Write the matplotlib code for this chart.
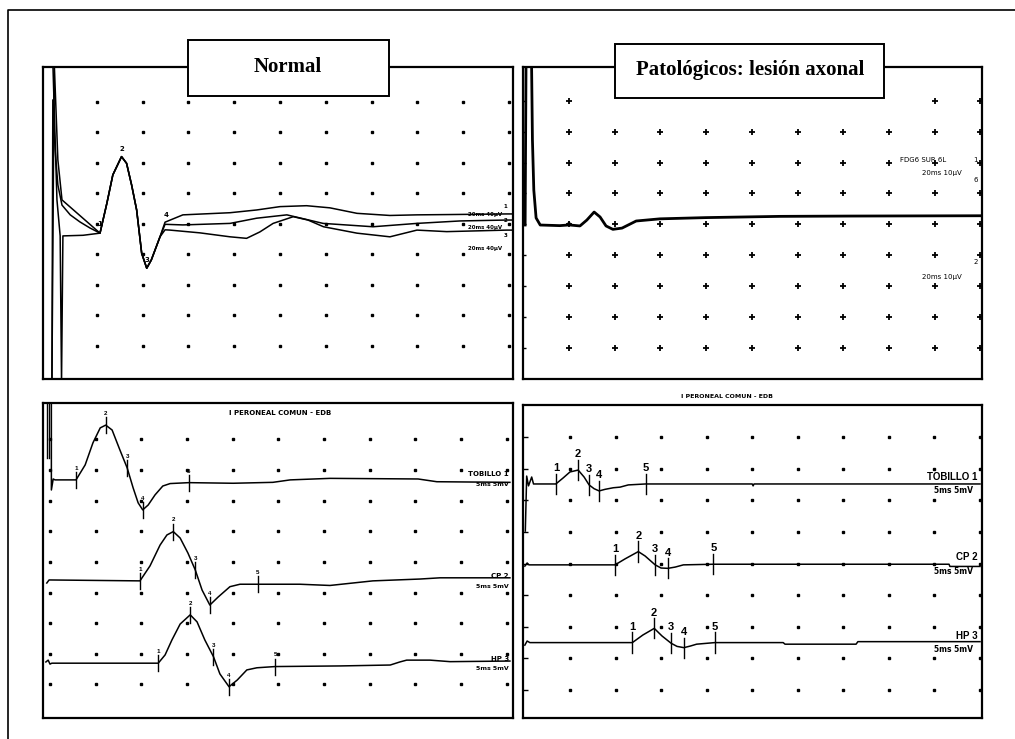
import numpy as np
import matplotlib.pyplot as plt
from matplotlib.patches import Rectangle

W, H = 1015, 739

# all traces in screen divisions (x: time div, y: amplitude div from bottom grid row)

# --- top left "Normal": three superimposed responses ---
tl_common_x = [1.07, 1.22, 1.35, 1.54, 1.65, 1.76, 1.87, 1.98, 2.09, 2.19, 2.38]
tl_common_y = [4.69, 5.67, 6.60, 7.20, 6.98, 6.27, 5.45, 4.03, 3.54, 3.81, 4.57]
tl_a_pre_x = [0.02, 0.04, 0.09, 0.15, 0.24, 0.42, 0.63, 0.85]
tl_a_pre_y = [-0.2, 9.06, 7.42, 6.27, 5.61, 5.29, 5.06, 4.86]
tl_a_post_x = [2.49, 2.88, 3.91, 4.49, 5.00, 5.58, 6.09, 6.68, 7.40, 7.99, 8.71, 9.95, 10.1]
tl_a_post_y = [5.05, 5.29, 5.36, 5.45, 5.56, 5.59, 5.52, 5.34, 5.27, 5.29, 5.30, 5.32, 5.32]
tl_b_pre_x = [0.04, 0.13, 0.20, 0.23, 0.26, 0.70]
tl_b_pre_y = [10.3, 5.78, 4.60, -0.2, 4.60, 4.62]
tl_b_post_x = [2.49, 2.88, 3.91, 4.49, 5.15, 5.94, 7.03, 7.99, 8.93, 9.95, 10.1]
tl_b_post_y = [4.98, 4.96, 5.01, 5.18, 5.29, 5.01, 4.90, 5.01, 5.09, 5.12, 5.12]
tl_c_pre_x = [0.02, 0.07, 0.15, 0.24]
tl_c_pre_y = [-0.2, 10.3, 7.09, 5.78]
tl_c_post_x = [2.49, 2.60, 3.25, 3.91, 4.27, 4.56, 4.85, 5.29, 5.61, 5.95, 6.68, 7.40, 7.99, 8.64, 9.95, 10.1]
tl_c_post_y = [4.80, 4.79, 4.70, 4.57, 4.52, 4.73, 5.01, 5.23, 5.12, 4.90, 4.69, 4.57, 4.79, 4.74, 4.79, 4.79]
tl_mark_x = [1.07, 1.54, 2.09, 2.51]
tl_mark_y = [5.00, 7.45, 3.80, 5.28]

# --- top right: axonal lesion, single low response ---
tr_x = [0.04, 0.06, 0.06, 0.18, 0.20, 0.23, 0.28, 0.37, 0.80, 0.98, 1.00, 1.02, 1.24, 1.39, 1.55,
        1.68, 1.81, 1.96, 2.16, 2.47, 2.99, 4.00, 5.62, 7.15, 10.05]
tr_y = [4.98, 10.3, 10.3, 10.3, 7.73, 6.11, 5.21, 4.98, 4.96, 4.98, 5.05, 4.98, 4.95, 5.14, 5.40,
        5.24, 4.95, 4.84, 4.88, 5.11, 5.18, 5.22, 5.26, 5.27, 5.28]

# --- bottom left: normal motor conduction ---
bl_t1_x = [0.03, 0.03, 0.07, 0.11, 0.57, 0.77, 0.94, 1.10, 1.22, 1.36, 1.53, 1.69, 1.82, 1.93,
           2.03, 2.15, 2.30, 2.47, 2.63, 3.04, 4.01, 4.88, 5.26, 6.13, 8.06, 8.47, 10.07]
bl_t1_y = [10.3, 7.35, 7.71, 7.68, 7.68, 8.17, 8.89, 9.38, 9.47, 9.31, 8.66, 8.07, 7.42, 6.93,
           6.70, 6.86, 7.19, 7.48, 7.56, 7.59, 7.57, 7.60, 7.68, 7.73, 7.71, 7.62, 7.60]
bl_t2_x = [-0.07, -0.02, 1.97, 2.19, 2.41, 2.56, 2.70, 2.85, 3.02, 3.18, 3.33, 3.50, 3.68, 3.94,
           4.16, 4.55, 5.47, 6.13, 7.07, 8.10, 8.54, 10.07]
bl_t2_y = [4.31, 4.41, 4.38, 4.87, 5.55, 5.88, 5.99, 5.78, 5.29, 4.74, 4.08, 3.59, 3.85, 4.19,
           4.27, 4.27, 4.27, 4.23, 4.38, 4.44, 4.48, 4.48]
bl_t3_x = [-0.09, -0.04, 0.0, 0.04, 2.37, 2.52, 2.67, 2.85, 3.07, 3.22, 3.39, 3.58, 3.72, 3.92,
           4.10, 4.31, 4.53, 4.93, 6.35, 7.45, 7.66, 7.81, 8.32, 8.76, 10.07]
bl_t3_y = [1.73, 1.79, 1.66, 1.69, 1.69, 1.96, 2.45, 2.97, 3.27, 3.04, 2.45, 1.90, 1.34, 0.92,
           1.14, 1.47, 1.54, 1.58, 1.60, 1.63, 1.73, 1.79, 1.79, 1.74, 1.76]
bl_lat = [[0.57, 1.22, 1.69, 2.03, 3.04],
          [1.97, 2.70, 3.18, 3.50, 4.55],
          [2.37, 3.07, 3.58, 3.92, 4.93]]

# --- bottom right: axonal lesion, low amplitude responses ---
br_t1_x = [0.02, 0.05, 0.09, 0.16, 0.20, 0.69, 0.85, 1.00, 1.18, 1.31, 1.42, 1.53, 1.64, 1.77,
           1.95, 2.10, 2.28, 2.66, 5.00, 5.02, 5.04, 10.0]
br_t1_y = [6.03, 7.77, 7.46, 7.74, 7.52, 7.52, 7.71, 7.90, 7.96, 7.74, 7.49, 7.37, 7.30, 7.35,
           7.40, 7.42, 7.49, 7.52, 7.52, 7.46, 7.52, 7.52]
br_t2_x = [0.01, 0.06, 0.10, 1.99, 2.21, 2.50, 2.65, 2.87, 3.00, 3.15, 3.31, 3.49, 4.15, 9.32, 9.34, 10.0]
br_t2_y = [4.92, 5.02, 4.96, 4.96, 5.15, 5.38, 5.24, 4.96, 4.86, 4.85, 4.89, 4.96, 4.98, 4.98, 4.91, 4.91]
br_t3_x = [0.01, 0.06, 0.12, 2.37, 2.60, 2.85, 3.02, 3.22, 3.35, 3.50, 3.64, 3.78, 4.18, 5.68,
           5.72, 7.28, 7.32, 10.0]
br_t3_y = [2.42, 2.55, 2.50, 2.50, 2.74, 2.95, 2.71, 2.48, 2.38, 2.34, 2.39, 2.45, 2.50, 2.50,
           2.45, 2.45, 2.53, 2.53]
br_lat = [[0.69, 1.18, 1.42, 1.64, 2.66],
          [1.99, 2.50, 2.87, 3.15, 4.15],
          [2.37, 2.85, 3.22, 3.50, 4.18]]

sites = ["TOBILLO 1", "CP 2", "HP 3"]
scale_txt = "5ms 5mV"


def add_panel(fig, frame, grid):
    left, top, right, bottom = frame
    gx0, dx, gy0, dy = grid
    ax = fig.add_axes([left / W, 1 - bottom / H, (right - left) / W, (bottom - top) / H])
    ax.set_xlim((left - gx0) / dx, (right - gx0) / dx)
    ax.set_ylim((gy0 - bottom) / dy, (gy0 - top) / dy)
    ax.set_xticks([])
    ax.set_yticks([])
    for s in ax.spines.values():
        s.set_linewidth(1.6)
    return ax


def grid_dots(ax, cols, rows, **kw):
    gx, gy = np.meshgrid(cols, rows)
    ax.plot(gx.ravel(), gy.ravel(), ls='none', color='black', **kw)


def markers(ax, tx, ty, lat, half, off, fs):
    ym = np.interp(lat, tx, ty)
    for i, (x, y) in enumerate(zip(lat, ym)):
        ax.plot([x, x], [y - half, y + half], color='black', lw=1)
        ax.text(x, y + off, str(i + 1), ha='center', va='center', fontsize=fs,
                fontweight='bold', family='Liberation Sans')


fig = plt.figure(figsize=(W / 100, H / 100), dpi=100)
rows = np.arange(1, 10)

# top left
ax = add_panel(fig, (43, 67, 513, 379), (51, 45.8, 376.2, 30.5))
grid_dots(ax, np.arange(1, 11), rows, marker='s', ms=2)
for pre_x, pre_y, post_x, post_y in [(tl_a_pre_x, tl_a_pre_y, tl_a_post_x, tl_a_post_y),
                                     (tl_b_pre_x, tl_b_pre_y, tl_b_post_x, tl_b_post_y),
                                     (tl_c_pre_x, tl_c_pre_y, tl_c_post_x, tl_c_post_y)]:
    ax.plot(pre_x + tl_common_x + post_x, pre_y + tl_common_y + post_y, color='black', lw=1.1)
for i, (x, y) in enumerate(zip(tl_mark_x, tl_mark_y)):
    ax.text(x, y, str(i + 1), ha='center', va='center', fontsize=5, fontweight='bold')
for y in [5.29, 4.89, 4.20]:
    ax.text(9.85, y, "20ms 40µV", ha='right', va='center', fontsize=4, fontweight='bold')
for y, s in zip([5.58, 5.09, 4.60], ["1", "2", "3"]):
    ax.text(9.93, y, s, ha='center', va='center', fontsize=4, fontweight='bold')

# top right
ax = add_panel(fig, (523, 67, 982, 379), (523.3, 45.7, 378.9, 30.9))
grid_dots(ax, np.arange(1, 11), rows, marker='+', ms=4, mew=1.3)
grid_dots(ax, [0.0], rows, marker='_', ms=4, mew=1)
ax.plot(tr_x, tr_y, color='black', lw=2)
ax.text(8.24, 7.08, "FDG6 SUR 6L", fontsize=5, va='center')
ax.text(8.72, 6.66, "20ms 10µV", fontsize=5, va='center')
ax.text(8.72, 3.30, "20ms 10µV", fontsize=5, va='center')
for y, s in zip([7.08, 6.44, 3.78], ["1", "6", "2"]):
    ax.text(9.9, y, s, fontsize=5, ha='center', va='center')

# bottom left
ax = add_panel(fig, (43, 403, 513, 718), (50, 45.67, 714.9, 30.6))
grid_dots(ax, np.arange(0, 11), rows, marker='s', ms=1.8)
ax.plot([-0.07, -0.07], [10.3, 8.4], color='black', lw=1)
ax.plot([-0.02, -0.02], [10.3, 8.4], color='black', lw=1)
for tx, ty, lat in zip([bl_t1_x, bl_t2_x, bl_t3_x], [bl_t1_y, bl_t2_y, bl_t3_y], bl_lat):
    ax.plot(tx, ty, color='black', lw=1.1)
    markers(ax, tx, ty, lat, 0.26, 0.38, 4.5)
for name, y in zip(sites, [7.87, 4.54, 1.83]):
    ax.text(10.05, y, name, ha='right', va='center', fontsize=5, fontweight='bold')
    ax.text(10.05, y - 0.33, scale_txt, ha='right', va='center', fontsize=4.5, fontweight='bold')
ax.text(5.04, 9.87, "I PERONEAL COMUN - EDB", ha='center', va='center', fontsize=5, fontweight='bold')

# bottom right
ax = add_panel(fig, (523, 405, 982, 718), (524.4, 45.56, 721.6, 31.6))
grid_dots(ax, np.arange(1, 11), rows, marker='s', ms=1.8)
grid_dots(ax, [0.02], rows, marker='_', ms=4, mew=1)
for tx, ty, lat in zip([br_t1_x, br_t2_x, br_t3_x], [br_t1_y, br_t2_y, br_t3_y], br_lat):
    ax.plot(tx, ty, color='black', lw=1.1)
    markers(ax, tx, ty, lat, 0.32, 0.5, 8)
for name, y in zip(sites, [7.75, 5.20, 2.72]):
    ax.text(9.95, y, name, ha='right', va='center', fontsize=7, fontweight='bold', family='Liberation Sans')
    ax.text(9.85, y - 0.45, scale_txt, ha='right', va='center', fontsize=5.5, fontweight='bold')
ax.text(4.45, 10.28, "I PERONEAL COMUN - EDB", ha='center', va='center', fontsize=4.5,
        fontweight='bold', clip_on=False)

# overlay: page frame and title boxes
ov = fig.add_axes([0, 0, 1, 1])
ov.set_xlim(0, W)
ov.set_ylim(H, 0)
ov.axis('off')
ov.patch.set_visible(False)
ov.plot([8, 8, W], [H, 10, 10], color='black', lw=1.2)
# white margin under the right title box hides the first dot row there
ov.add_patch(Rectangle((600, 70), 295, 36, fc='white', ec='none'))
ov.add_patch(Rectangle((188, 40), 201, 56, fc='white', ec='black', lw=1.4))
ov.add_patch(Rectangle((615, 44), 269, 54, fc='white', ec='black', lw=1.4))
ov.text(288, 67, "Normal", ha='center', va='center', fontsize=15, fontweight='bold', family='Liberation Serif')
ov.text(750, 70, "Patológicos: lesión axonal", ha='center', va='center', fontsize=15,
        fontweight='bold', family='Liberation Serif')

fig.savefig("out.png", dpi=100)
